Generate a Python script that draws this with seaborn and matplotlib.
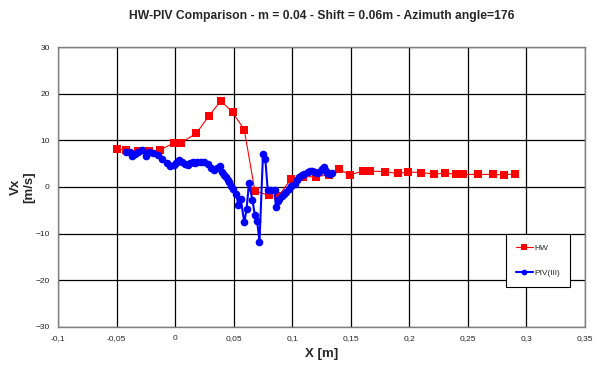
import numpy as np
import pandas as pd
import seaborn as sns
import matplotlib
matplotlib.use("Agg")
import matplotlib.pyplot as plt
from matplotlib.ticker import FuncFormatter

# HW measurements
hw_x = [-0.050, -0.042, -0.032, -0.022, -0.013, -0.001, 0.005, 0.018, 0.029, 0.039,
        0.049, 0.059, 0.068, 0.080, 0.088, 0.099, 0.109, 0.120, 0.131, 0.140,
        0.149, 0.160, 0.166, 0.179, 0.190, 0.199, 0.210, 0.221, 0.230, 0.240,
        0.246, 0.259, 0.271, 0.281, 0.290]
hw_y = [8.1, 7.9, 7.7, 7.7, 7.9, 9.5, 9.5, 11.5, 15.3, 18.5,
        16.0, 12.3, -0.8, -1.8, -2.0, 1.7, 2.2, 2.2, 2.6, 3.8,
        2.6, 3.4, 3.4, 3.3, 2.9, 3.2, 3.1, 2.8, 2.9, 2.8,
        2.7, 2.7, 2.7, 2.6, 2.8]

# PIV(III) measurements
piv_x = [-0.042, -0.039, -0.037, -0.034, -0.032, -0.028, -0.025, -0.022, -0.019, -0.015,
         -0.011, -0.007, -0.004, -0.001, 0.001, 0.003, 0.006, 0.008, 0.011, 0.013,
         0.015, 0.017, 0.019, 0.022, 0.025, 0.028, 0.031, 0.033, 0.036, 0.038,
         0.040, 0.042, 0.043, 0.045, 0.046, 0.048, 0.049, 0.052, 0.054, 0.056,
         0.059, 0.061, 0.063, 0.066, 0.068, 0.070, 0.072, 0.075, 0.077, 0.079,
         0.082, 0.085, 0.086, 0.088, 0.089, 0.091, 0.093, 0.095, 0.097, 0.099,
         0.102, 0.104, 0.106, 0.108, 0.110, 0.113, 0.115, 0.117, 0.119, 0.121,
         0.123, 0.125, 0.127, 0.129, 0.130, 0.132, 0.134]
piv_y = [7.6, 7.4, 6.6, 7.0, 7.4, 7.9, 6.6, 7.6, 7.2, 6.9,
         6.1, 5.1, 4.6, 4.8, 5.1, 5.7, 5.3, 5.0, 4.8, 5.2,
         5.4, 5.2, 5.4, 5.3, 5.4, 5.0, 4.0, 3.6, 4.0, 4.5,
         3.3, 2.5, 2.2, 1.5, 1.1, 0.2, -0.5, -1.4, -3.9, -2.6,
         -7.6, -4.7, 0.8, -2.8, -6.0, -7.3, -11.8, 7.1, 5.9, -0.6,
         -0.6, -0.6, -4.3, -3.0, -2.5, -2.0, -1.5, -1.0, -0.5, 0.2,
         0.6, 1.5, 2.2, 2.6, 2.8, 3.2, 3.5, 3.5, 3.3, 3.0,
         3.2, 3.8, 4.2, 3.5, 2.9, 2.8, 2.9]

x_ticks = [-0.1, -0.05, 0, 0.05, 0.1, 0.15, 0.2, 0.25, 0.3, 0.35]
y_ticks = [-30, -20, -10, 0, 10, 20, 30]

hw = pd.DataFrame({"X": hw_x, "Vx": hw_y})
piv = pd.DataFrame({"X": piv_x, "Vx": piv_y})

sns.set_theme(style="whitegrid", rc={"grid.color": "black", "grid.linewidth": 0.9,
                                     "axes.edgecolor": "#808080", "axes.linewidth": 1.0})
plt.rcParams["font.family"] = ["Liberation Sans", "DejaVu Sans"]

fig = plt.figure(figsize=(6.05, 3.71), dpi=100)
ax = fig.add_axes([0.096, 0.119, 0.871, 0.754])

sns.lineplot(x="X", y="Vx", data=hw, ax=ax, sort=False, estimator=None, color="red",
             marker="s", markersize=5.5, markeredgewidth=0, linewidth=0.8, label="HW")
sns.lineplot(x="X", y="Vx", data=piv, ax=ax, sort=False, estimator=None, color="blue",
             marker="o", markersize=5.5, markeredgewidth=0, linewidth=1.5, label="PIV(III)")

ax.set_xlim(-0.1, 0.35)
ax.set_ylim(-30, 30)
ax.set_xticks(x_ticks)
ax.set_yticks(y_ticks)
ax.xaxis.set_major_formatter(FuncFormatter(lambda v, p: ("%g" % round(v, 3)).replace(".", ",")))
ax.tick_params(labelsize=6, pad=6, length=0)

ax.set_title("HW-PIV Comparison - m = 0.04 - Shift = 0.06m - Azimuth angle=176",
             fontsize=8.7, fontweight="bold", pad=20)
ax.set_xlabel("X [m]", fontsize=9.5, fontweight="bold", labelpad=4)
ax.set_ylabel("Vx\n[m/s]", fontsize=9.5, fontweight="bold", labelpad=0)

leg = ax.legend(loc="lower right", bbox_to_anchor=(0.9715, 0.143), fontsize=6,
                frameon=True, fancybox=False, borderpad=1.2, labelspacing=2.1,
                handlelength=2.0, handletextpad=0.2, borderaxespad=0, markerscale=0.75)
leg.get_frame().set_edgecolor("black")
leg.get_frame().set_linewidth(0.8)
leg.get_frame().set_alpha(1)

plt.savefig("out.png", dpi=100)
